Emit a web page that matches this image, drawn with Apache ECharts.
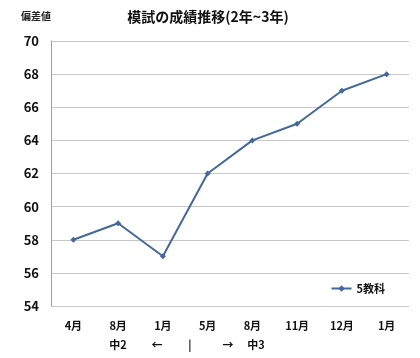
<!DOCTYPE html>
<html><head><meta charset="utf-8">
<script src="https://cdn.jsdelivr.net/npm/echarts@6/dist/echarts.min.js"></script>
<style>html,body{margin:0;padding:0;background:#fff}#c{width:420px;height:358px}</style>
</head><body><div id="c"></div>
<script>
const categories = ['4月','8月','1月','5月','8月','11月','12月','1月'];
const values = [58, 59, 57, 62, 64, 65, 67, 68];
const seriesName = '5教科';
const yTicks = {min: 54, max: 70, interval: 2};
const titleText = '模試の成績推移(2年~3年)';
const yName = '偏差値';
const periodLabels = [['中2', 118], ['←', 157], ['|', 190], ['→', 228], ['中3', 256]];

const chart = echarts.init(document.getElementById('c'));
const font = '"Noto Sans CJK JP", "Noto Sans", sans-serif';
chart.setOption({
  animation: false,
  title: {text: titleText, left: 203, top: 5, textAlign: 'center',
    textStyle: {fontSize: 14, fontWeight: 'bold', color: '#111', fontFamily: font}},
  grid: {left: 51, right: 11, top: 41, bottom: 52},
  legend: {data: [{name: seriesName}], right: 30, top: 278, itemWidth: 20, itemHeight: 8,
    textStyle: {fontSize: 11, fontWeight: 'bold', color: '#111', fontFamily: font}},
  xAxis: {type: 'category', data: categories, boundaryGap: true,
    axisLine: {show: false}, axisTick: {show: false},
    axisLabel: {fontSize: 11, fontWeight: 'bold', color: '#111', margin: 14, fontFamily: font}},
  yAxis: {type: 'value', min: yTicks.min, max: yTicks.max, interval: yTicks.interval,
    name: yName, nameLocation: 'end', nameGap: 20,
    nameTextStyle: {fontSize: 10, fontWeight: 'bold', color: '#222', align: 'right', fontFamily: font},
    axisLine: {show: true, lineStyle: {color: '#8fa3bd'}}, axisTick: {show: false},
    splitLine: {lineStyle: {color: '#c8c8c8'}},
    axisLabel: {fontSize: 13, fontWeight: 'bold', color: '#111', margin: 12, fontFamily: font}},
  series: [{name: seriesName, type: 'line', data: values, symbol: 'diamond', symbolSize: 6,
    lineStyle: {color: '#44689a', width: 2}, itemStyle: {color: '#44689a'}}],
  graphic: periodLabels.map(([t, x]) => ({type: 'text', x: x, y: 345,
    style: {text: t, fill: '#111', font: 'bold 11px ' + font, align: 'center', verticalAlign: 'middle'}}))
});
</script></body></html>
